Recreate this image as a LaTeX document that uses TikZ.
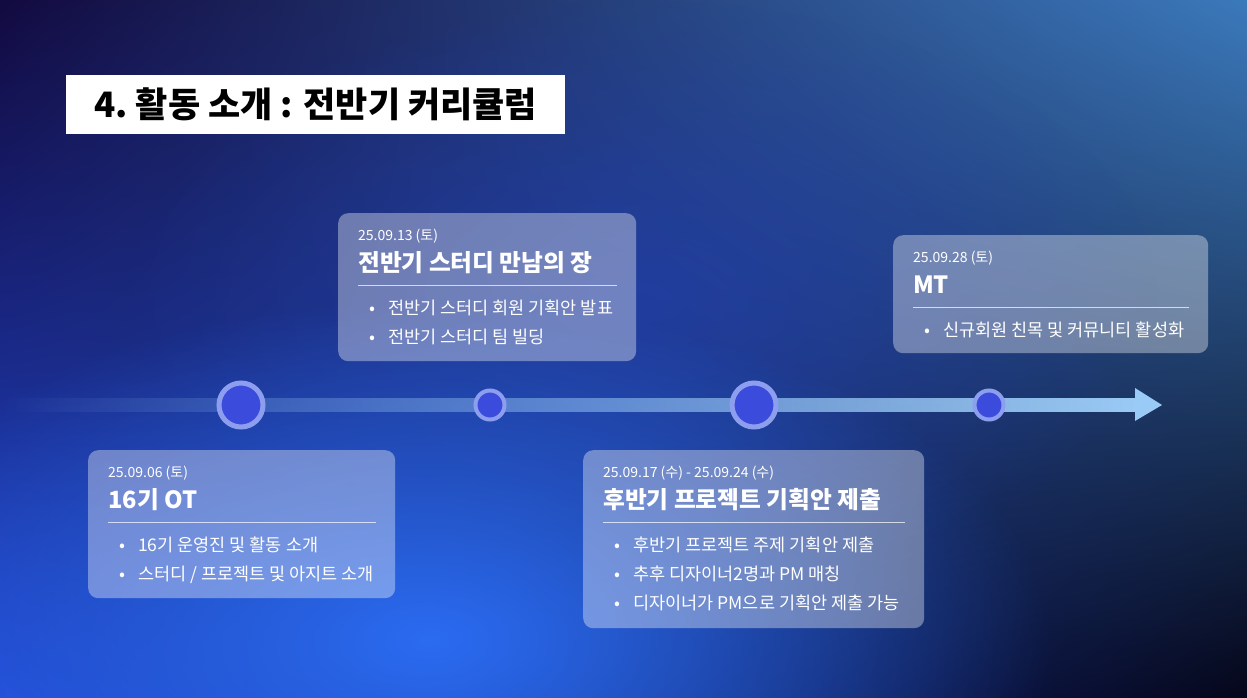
\documentclass[tikz,border=0pt]{standalone}
\usepackage{fontspec}
\setmainfont{Noto Sans CJK KR}
\usetikzlibrary{positioning,calc,fadings,shadings}
\definecolor{BgTL}{HTML}{120A40}
\definecolor{BgTR}{HTML}{3B79BB}
\definecolor{BgBL}{HTML}{2148D0}
\definecolor{BgBR}{HTML}{05061A}
\definecolor{Glow}{HTML}{2B6CF2}
\definecolor{MidGlow}{HTML}{2342B8}
\definecolor{Ring}{HTML}{8E9EEE}
\definecolor{Dot}{HTML}{3B4BDC}
\definecolor{Bar}{HTML}{9ACAF6}
\newcommand{\itm}{\makebox[0pt][c]{\textbullet}\hspace{16pt}}
\tikzfading[name=glowfade, inner color=transparent!0, outer color=transparent!100]
\tikzfading[name=barfade, left color=transparent!100, right color=transparent!0]

\begin{document}
\begin{tikzpicture}[x=1pt, y=-1pt,
  card/.style={fill=white, fill opacity=0.36, rounded corners=10pt, inner sep=0pt, anchor=north west},
  datetxt/.style={font=\fontsize{14}{16}\selectfont, text=white, anchor=base west, inner sep=0pt},
  headtxt/.style={font=\fontsize{23.7}{28}\selectfont\bfseries, text=white, anchor=base west, inner sep=0pt},
  itemtxt/.style={font=\fontsize{17.5}{20}\selectfont, text=white, anchor=base west, inner sep=0pt},
  rule/.style={draw=white, draw opacity=0.7, line width=0.9pt},
  bigmile/.style={circle, fill=Dot, draw=Ring, line width=5pt, minimum size=44pt, inner sep=0pt},
  smallmile/.style={circle, fill=Dot, draw=Ring, line width=4pt, minimum size=29pt, inner sep=0pt}]
\useasboundingbox (0,0) rectangle (1247,698);
% background
\shade[upper left=BgTL, upper right=BgTR, lower left=BgBL, lower right=BgBR] (0,0) rectangle (1247,698);
\begin{scope}
\clip (0,0) rectangle (1247,698);
\fill[MidGlow, fill opacity=0.6, path fading=glowfade] (640,300) ellipse [x radius=520, y radius=300];
\fill[Glow, path fading=glowfade] (430,640) ellipse [x radius=620, y radius=340];
\end{scope}

% title
\node[fill=white, text=black, minimum width=499pt, minimum height=59pt, anchor=north west, inner sep=0pt,
  font=\fontsize{35}{40}\selectfont\bfseries] (title) at (66,75) {4.\ 활동 소개 : 전반기 커리큘럼};

% timeline
\coordinate (barstart) at (0,398);
\coordinate (barend) at (1136,412);
\coordinate (tip) at (1162,405);
\fill[Bar, path fading=barfade] (barstart) rectangle (barend);
\fill[Bar] (1135,388) -- (tip) -- (1135,421) -- cycle;
\node[bigmile] (m1) at (241,405) {};
\node[smallmile] (m2) at (490,405) {};
\node[bigmile] (m3) at (754,405) {};
\node[smallmile] (m4) at (989,405) {};

% cards
\node[card, minimum width=307pt, minimum height=148pt] (otcard) at (88,450) {};
\node[card, minimum width=298pt, minimum height=148pt] (studycard) at (338,213) {};
\node[card, minimum width=341pt, minimum height=178pt] (projcard) at (583,450) {};
\node[card, minimum width=315pt, minimum height=118pt] (mtcard) at (893,235) {};

% 16기 OT
\node[datetxt] (otdate) at ([shift={(20,27)}]otcard.north west) {25.09.06 (토)};
\node[headtxt] (othead) at ([shift={(20,58)}]otcard.north west) {16기 OT};
\draw[rule] ([shift={(20,72)}]otcard.north west) -- ([shift={(-19,72)}]otcard.north east);
\node[itemtxt] (otitema) at ([shift={(34,101)}]otcard.north west) {\itm 16기 운영진 및 활동 소개};
\node[itemtxt] (otitemb) at ([shift={(34,130)}]otcard.north west) {\itm 스터디 / 프로젝트 및 아지트 소개};

% 전반기 스터디
\node[datetxt] (studydate) at ([shift={(20,27)}]studycard.north west) {25.09.13 (토)};
\node[headtxt] (studyhead) at ([shift={(20,58)}]studycard.north west) {전반기 스터디 만남의 장};
\draw[rule] ([shift={(20,72)}]studycard.north west) -- ([shift={(-19,72)}]studycard.north east);
\node[itemtxt] (studyitema) at ([shift={(34,101)}]studycard.north west) {\itm 전반기 스터디 회원 기획안 발표};
\node[itemtxt] (studyitemb) at ([shift={(34,130)}]studycard.north west) {\itm 전반기 스터디 팀 빌딩};

% 후반기 프로젝트
\node[datetxt] (projdate) at ([shift={(20,27)}]projcard.north west) {25.09.17 (수) - 25.09.24 (수)};
\node[headtxt] (projhead) at ([shift={(20,58)}]projcard.north west) {후반기 프로젝트 기획안 제출};
\draw[rule] ([shift={(20,72)}]projcard.north west) -- ([shift={(-19,72)}]projcard.north east);
\node[itemtxt] (projitema) at ([shift={(34,101)}]projcard.north west) {\itm 후반기 프로젝트 주제 기획안 제출};
\node[itemtxt] (projitemb) at ([shift={(34,130)}]projcard.north west) {\itm 추후 디자이너2명과 PM 매칭};
\node[itemtxt] (projitemc) at ([shift={(34,159)}]projcard.north west) {\itm 디자이너가 PM으로 기획안 제출 가능};

% MT
\node[datetxt] (mtdate) at ([shift={(20,27)}]mtcard.north west) {25.09.28 (토)};
\node[headtxt] (mthead) at ([shift={(20,58)}]mtcard.north west) {MT};
\draw[rule] ([shift={(20,72)}]mtcard.north west) -- ([shift={(-19,72)}]mtcard.north east);
\node[itemtxt] (mtitema) at ([shift={(34,101)}]mtcard.north west) {\itm 신규회원 친목 및 커뮤니티 활성화};
\end{tikzpicture}
\end{document}
